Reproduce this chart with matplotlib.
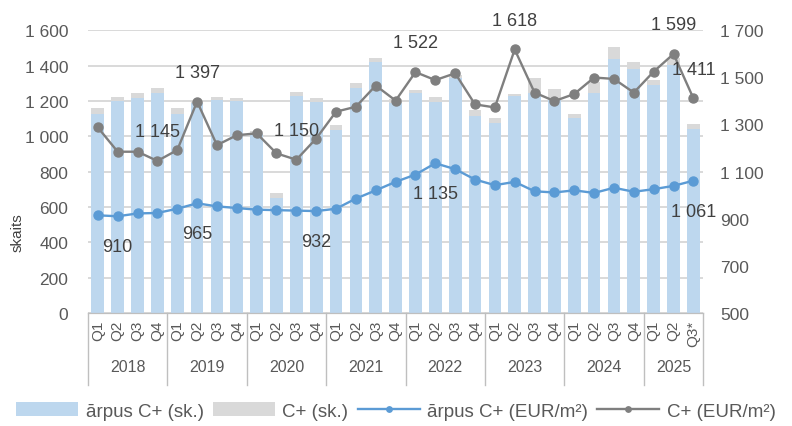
import matplotlib
matplotlib.use("Agg")
import matplotlib.pyplot as plt
import matplotlib.transforms as mtransforms
import numpy as np

plt.rcParams['font.family'] = ['Liberation Sans', 'DejaVu Sans']

# dati
years = ['2018', '2019', '2020', '2021', '2022', '2023', '2024', '2025']
quarters = ['Q1', 'Q2', 'Q3', 'Q4'] * 7 + ['Q1', 'Q2', 'Q3*']
arpus_sk = [1128, 1199, 1214, 1243, 1128, 1185, 1205, 1200,
            1010, 650, 1225, 1195, 1035, 1275, 1420, 1190,
            1243, 1195, 1328, 1116, 1072, 1225, 1243, 1205,
            1101, 1243, 1438, 1380, 1290, 1403, 1040]
kopa_sk = [1157, 1220, 1243, 1270, 1157, 1200, 1220, 1214,
           1030, 680, 1248, 1214, 1063, 1300, 1441, 1210,
           1261, 1224, 1345, 1148, 1101, 1237, 1331, 1267,
           1123, 1305, 1507, 1422, 1318, 1441, 1067]
cplus_sk = [k - a for k, a in zip(kopa_sk, arpus_sk)]
arpus_eur = [914, 910, 922, 924, 942, 965, 952, 945,
             938, 936, 934, 932, 942, 985, 1020, 1056,
             1087, 1135, 1110, 1066, 1042, 1056, 1016, 1011,
             1020, 1009, 1031, 1014, 1025, 1039, 1061]
cplus_eur = [1287, 1184, 1184, 1145, 1191, 1397, 1212, 1254,
             1262, 1177, 1150, 1240, 1354, 1375, 1465, 1401,
             1522, 1488, 1517, 1385, 1372, 1618, 1435, 1399,
             1429, 1499, 1493, 1435, 1524, 1599, 1411]
arpus_lbl = [1, 5, 11, 17, 30]
cplus_lbl = [3, 5, 10, 16, 21, 29, 30]

c_blue_bar = '#bdd7ee'
c_grey_bar = '#d9d9d9'
c_blue = '#5b9bd5'
c_grey = '#7f7f7f'
c_txt = '#595959'

def fmt(v):
    return f'{v:,}'.replace(',', ' ')

fig = plt.figure(figsize=(7.92, 4.27), dpi=100)
ax = fig.add_axes([0.111, 0.265, 0.777, 0.662])
ax2 = ax.twinx()

x = np.arange(len(quarters))
b1 = ax.bar(x, arpus_sk, width=0.64, color=c_blue_bar, label='ārpus C+ (sk.)', zorder=2)
b2 = ax.bar(x, cplus_sk, width=0.64, bottom=arpus_sk, color=c_grey_bar, label='C+ (sk.)', zorder=2)

l1, = ax2.plot(x, arpus_eur, color=c_blue, lw=1.7, marker='o', ms=6.5, label='ārpus C+ (EUR/m²)')
l2, = ax2.plot(x, cplus_eur, color=c_grey, lw=1.7, marker='o', ms=6.5, label='C+ (EUR/m²)')

for i in cplus_lbl:
    ax2.annotate(fmt(cplus_eur[i]), (x[i], cplus_eur[i]), xytext=(0, 21), textcoords='offset points',
                 ha='center', va='center', fontsize=13, color='#404040')
for i in arpus_lbl:
    ax2.annotate(fmt(arpus_eur[i]), (x[i], arpus_eur[i]), xytext=(0, -22), textcoords='offset points',
                 ha='center', va='center', fontsize=13, color='#404040')

ax.set_xlim(-0.5, len(quarters) - 0.5)
ax.set_ylim(0, 1600)
ax.set_yticks(range(0, 1601, 200))
ax.set_yticklabels([fmt(v) for v in range(0, 1601, 200)])
ax2.set_ylim(500, 1700)
ax2.set_yticks(range(500, 1701, 200))
ax2.set_yticklabels([fmt(v) for v in range(500, 1701, 200)])

ax.grid(axis='y', color='#d0d0d0', lw=1.1, zorder=0)
ax.set_axisbelow(True)
for a in (ax, ax2):
    for s in ['top', 'left', 'right']:
        a.spines[s].set_visible(False)
    a.spines['bottom'].set_color('#bfbfbf')
ax.tick_params(axis='y', length=0, pad=14, labelsize=12.5, labelcolor=c_txt)
ax2.tick_params(axis='y', length=0, pad=12, labelsize=12.5, labelcolor=c_txt)

ax.set_xticks(x)
ax.set_xticklabels(quarters, rotation=90, fontsize=11, color=c_txt)
ax.tick_params(axis='x', length=0, pad=5)

trans = mtransforms.blended_transform_factory(ax.transData, ax.transAxes)
bounds = [-0.5 + 4 * k for k in range(8)] + [len(quarters) - 0.5]
for xb in bounds:
    ax.plot([xb, xb], [0, -0.255], transform=trans, color='#bfbfbf', lw=1, clip_on=False)
for k, yr in enumerate(years):
    xc = (bounds[k] + bounds[k + 1]) / 2
    ax.text(xc, -0.19, yr, transform=trans, ha='center', va='center', fontsize=11.5, color=c_txt)

fig.text(0.022, 0.455, 'skaits', rotation=90, ha='center', va='center', fontsize=11, color='#404040')

fig.legend(handles=[b1, b2, l1, l2], loc='center', bbox_to_anchor=(0.5, 0.035), ncol=4,
           frameon=False, fontsize=13.5, handlelength=3.3, handletextpad=0.4, columnspacing=0.5,
           labelcolor=c_txt, markerscale=0.6)

fig.savefig('out.png', dpi=100)
